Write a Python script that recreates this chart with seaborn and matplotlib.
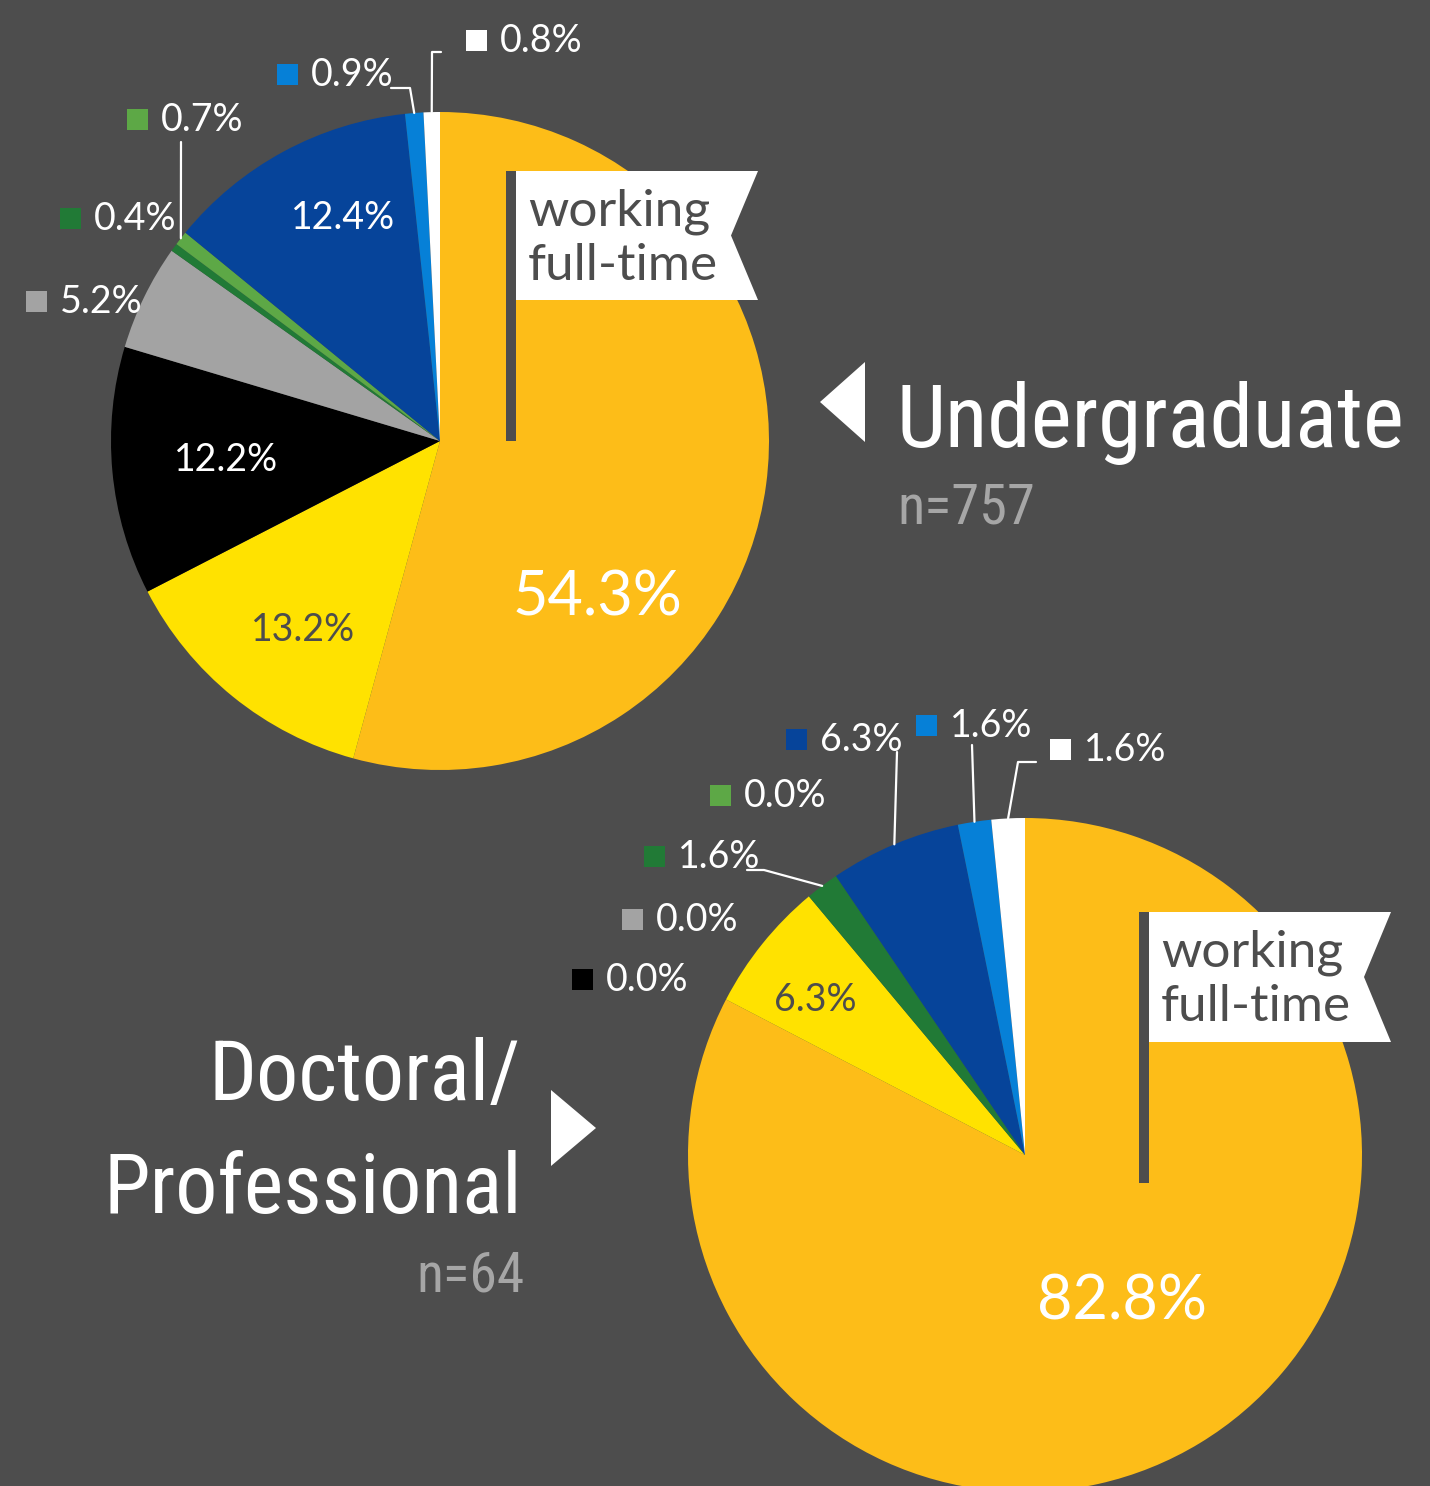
import numpy as np
import matplotlib
matplotlib.use("Agg")
import matplotlib.pyplot as plt
from matplotlib.patches import Rectangle, Polygon
import seaborn as sns

# canvas in pixels
W, H = 1430, 1486
BG = "#4d4d4d"

# slice order, clockwise from 12 o'clock
segments = ["orange", "yellow", "black", "gray", "dark green",
            "light green", "dark blue", "light blue", "white"]
undergrad_pct = [54.3, 13.2, 12.2, 5.2, 0.4, 0.7, 12.4, 0.9, 0.8]
doctoral_pct = [82.8, 6.3, 0.0, 0.0, 1.6, 0.0, 6.3, 1.6, 1.6]
undergrad_n = 757
doctoral_n = 64
group_titles = ["Undergraduate", "Doctoral/\nProfessional"]
flag_text = "working\nfull-time"

palette = sns.color_palette(["#fdbd18", "#ffe200", "#000000", "#a3a3a3", "#217a36",
                             "#5da846", "#06449a", "#0680d7", "#ffffff"])

sns.set_theme(style="dark", rc={"axes.facecolor": BG, "figure.facecolor": BG})
plt.rcParams["font.family"] = ["Lato", "DejaVu Sans"]
COND = ["Roboto Condensed", "DejaVu Sans"]

fig = plt.figure(figsize=(W / 100, H / 100), dpi=100)
ax = fig.add_axes([0, 0, 1, 1])
renderer = fig.canvas.get_renderer()


def fit_text(x, y, s, width, max_fs, **kw):
    # shrink a title until it spans the same width as in the original
    t = ax.text(x, y, s, fontsize=max_fs, family=COND, fontstretch="condensed",
                va="baseline", **kw)
    w = t.get_window_extent(renderer).width
    fs = max_fs * min(1.0, width / w)
    t.set_fontsize(fs)
    return t, fs


def draw_pie(values, center, radius):
    # y axis is flipped later, so -90/counterclock gives 12 o'clock, clockwise
    wedges, _ = ax.pie(values, colors=palette, center=center, radius=radius,
                       startangle=-90, counterclock=True,
                       wedgeprops=dict(linewidth=0))
    return wedges


def edge_point(wedge, center, radius):
    t = np.radians((wedge.theta1 + wedge.theta2) / 2)
    return center[0] + radius * np.cos(t), center[1] + radius * np.sin(t)


def outside_label(wedges, values, idx, sq_xy, leader, center, radius):
    x, y = sq_xy
    ax.add_patch(Rectangle((x - 10.5, y - 10.5), 21, 21, color=palette[idx],
                           lw=0, zorder=5))
    ax.text(x + 24, y + 1, f"{values[idx]:.1f}%", color="white", fontsize=27,
            ha="left", va="center", zorder=5)
    if leader:
        ex, ey = edge_point(wedges[idx], center, radius)
        xs = [ex] + [p[0] for p in leader]
        ys = [ey] + [p[1] for p in leader]
        ax.plot(xs, ys, color="white", lw=1.6, zorder=4)


def flag(x, top, bottom, right, height):
    ax.add_patch(Rectangle((x, top), 10, bottom - top, color=BG, lw=0, zorder=3))
    ax.add_patch(Polygon([(x + 10, top), (right, top), (right - 27, top + height / 2),
                          (right, top + height), (x + 10, top + height)],
                         closed=True, color="white", lw=0, zorder=3))
    ax.text(x + 22, top + height / 2 + 3, flag_text, color=BG, fontsize=37,
            ha="left", va="center", linespacing=1.22, zorder=4)


# --- undergraduate ---
ug_c, ug_r = (440, 441), 329
ug_w = draw_pie(undergrad_pct, ug_c, ug_r)

ug_inside = {0: (598, 598, 44, "white"), 1: (303, 630, 27, BG),
             2: (226, 460, 27, "white"), 6: (343, 218, 27, "white")}
for i, (x, y, fs, col) in ug_inside.items():
    ax.text(x, y, f"{undergrad_pct[i]:.1f}%", color=col, fontsize=fs,
            ha="center", va="center", zorder=5)

ug_outside = [
    (3, (36, 301), None),
    (4, (70, 218), None),
    (5, (137, 119), [(181, 142)]),
    (7, (287, 74), [(410, 88), (391, 88)]),
    (8, (476, 40), [(432, 52), (441, 52)]),
]
for i, sq, lead in ug_outside:
    outside_label(ug_w, undergrad_pct, i, sq, lead, ug_c, ug_r)

flag(506, 171, 441, 758, 129)

ax.add_patch(Polygon([(820, 402), (865, 362), (865, 442)], color="white", lw=0))
fit_text(897, 447, group_titles[0], 508, 86, color="white", ha="left")
fit_text(897, 524, f"n={undergrad_n}", 138, 58, color="#a6a6a6", ha="left")

# --- doctoral / professional ---
dp_c, dp_r = (1025, 1155), 337
dp_w = draw_pie(doctoral_pct, dp_c, dp_r)

dp_inside = {0: (1122, 1302, 44, "white"), 1: (815, 1000, 27, BG)}
for i, (x, y, fs, col) in dp_inside.items():
    ax.text(x, y, f"{doctoral_pct[i]:.1f}%", color=col, fontsize=fs,
            ha="center", va="center", zorder=5)

dp_outside = [
    (2, (582, 979), None),
    (3, (632, 919), None),
    (4, (654, 856), [(764, 870), (747, 870)]),
    (5, (720, 795), None),
    (6, (796, 739), [(897, 752)]),
    (7, (926, 725), [(972, 745)]),
    (8, (1060, 749), [(1018, 762), (1036, 762)]),
]
for i, sq, lead in dp_outside:
    outside_label(dp_w, doctoral_pct, i, sq, lead, dp_c, dp_r)

flag(1139, 912, 1183, 1391, 130)

ax.add_patch(Polygon([(551, 1090), (551, 1166), (596, 1128)], color="white", lw=0))
line1, line2 = group_titles[1].split("\n")
_, fs_title = fit_text(522, 1213, line2, 419, 86, color="white", ha="right")
ax.text(521, 1100, line1, color="white", fontsize=fs_title, family=COND,
        fontstretch="condensed", ha="right", va="baseline")
fit_text(525, 1292, f"n={doctoral_n}", 108, 58, color="#a6a6a6", ha="right")

ax.set_xlim(0, W)
ax.set_ylim(H, 0)
ax.set_aspect("equal")
ax.axis("off")

fig.savefig("out.png", dpi=100, facecolor=BG)
